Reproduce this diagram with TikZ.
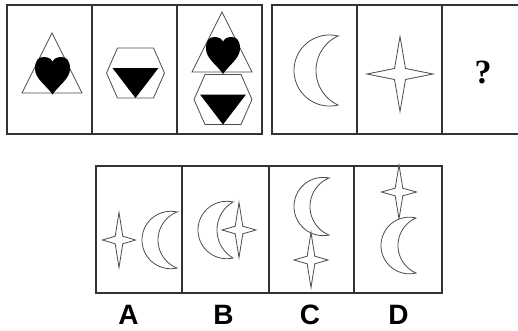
\documentclass[tikz,border=0pt]{standalone}
\usepackage{fontspec}
\setmainfont{Liberation Serif}
\newfontfamily\labfont{Liberation Sans}
\tikzset{
  boxline/.style={draw=black!80, line width=1.1pt},
  shapeline/.style={draw=black!70, line width=0.8pt, line join=miter, fill=white},
  blackfill/.style={fill=black, draw=none},
  optlabel/.style={font=\labfont\bfseries\fontsize{28}{28}\selectfont, inner sep=0pt, anchor=center},
}
\newcommand{\drawmoon}[5]{%
  \pgfmathsetmacro\mh{(#3-#2)/2}%
  \pgfmathsetmacro\my{(#3+#2)/2}%
  \pgfmathsetmacro\mdo{#1-#4}%
  \pgfmathsetmacro\mro{(\mh*\mh+\mdo*\mdo)/(2*\mdo)}%
  \pgfmathsetmacro\mcxo{#4+\mro}%
  \pgfmathsetmacro\mbo{atan2(\mh,#1-\mcxo)}%
  \pgfmathsetmacro\mbe{360-\mbo}%
  \pgfmathsetmacro\mdi{#1-#5}%
  \pgfmathsetmacro\mri{(\mh*\mh+\mdi*\mdi)/(2*\mdi)}%
  \pgfmathsetmacro\mcxi{#5+\mri}%
  \pgfmathsetmacro\mbi{atan2(\mh,#1-\mcxi)}%
  \pgfmathsetmacro\mbs{360-\mbi}%
  \pgfmathsetmacro\mbw{360-2*\mbi}%
  \draw[shapeline] plot[domain=\mbo:\mbe,samples=70,variable=\t] ({\mcxo+\mro*cos(\t)},{\my+\mro*sin(\t)})
    -- plot[domain=0:1,samples=70,variable=\t] ({\mcxi+\mri*cos(\mbs-\t*\mbw)},{\my+\mri*sin(\mbs-\t*\mbw)}) -- cycle;
}
\newcommand{\drawstar}[5]{%
  \draw[shapeline] ({#1+#3},{#2}) -- ({#1+#5},{#2-#5}) -- ({#1},{#2-#4}) -- ({#1-#5},{#2-#5})
    -- ({#1-#3},{#2}) -- ({#1-#5},{#2+#5}) -- ({#1},{#2+#4}) -- ({#1+#5},{#2+#5}) -- cycle;
}
\newcommand{\drawheart}[4]{% cx, ytop, ybottom, halfwidth
  \pgfmathsetmacro\hh{#3-#2}%
  \begin{scope}[shift={(#1,#2)}, xscale=#4, yscale=\hh]
    \fill (0,1) .. controls (-0.3,0.78) and (-1,0.58) .. (-1,0.32)
      .. controls (-1,0.08) and (-0.8,0) .. (-0.5,0)
      .. controls (-0.22,0) and (-0.05,0.06) .. (0,0.13)
      .. controls (0.05,0.06) and (0.22,0) .. (0.5,0)
      .. controls (0.8,0) and (1,0.08) .. (1,0.32)
      .. controls (1,0.58) and (0.3,0.78) .. (0,1) -- cycle;
  \end{scope}
}
\newcommand{\drawtri}[2]{% cx, apex y
  \draw[shapeline] ({#1},{#2}) -- ({#1+30},{#2+60}) -- ({#1-30},{#2+60}) -- cycle;
}
\newcommand{\drawhexg}[2]{% cx, cy
  \draw[shapeline] ({#1-18},{#2-25}) -- ({#1+18},{#2-25}) -- ({#1+29},{#2}) -- ({#1+18},{#2+25})
    -- ({#1-18},{#2+25}) -- ({#1-29},{#2}) -- cycle;
  \fill[blackfill] ({#1-23},{#2-5}) -- ({#1+23},{#2-5}) -- ({#1},{#2+25}) -- cycle;
}
\begin{document}
\begin{tikzpicture}[x=1pt,y=-1pt]
\useasboundingbox (0,0) rectangle (518,330);
\fill[white] (0,0) rectangle (518,330);
% left group
\draw[boxline] (7,5) rectangle (262,134);
\draw[boxline] (92,5) -- (92,134);
\draw[boxline] (177,5) -- (177,134);
\drawtri{52}{33}
\drawheart{52.5}{57}{94.5}{17.5}
\drawhexg{135.5}{73}
\drawtri{222}{12}
\drawheart{223}{37}{74}{17}
\drawhexg{223}{99.5}
% right group
\draw[boxline] (272,5) rectangle (522,134);
\draw[boxline] (357,5) -- (357,134);
\draw[boxline] (442,5) -- (442,134);
\drawmoon{338}{36}{105}{294}{316}
\drawstar{400}{74}{33}{37.5}{5.5}
\node[font=\bfseries\fontsize{34}{34}\selectfont, inner sep=0pt] (q) at (483,72) {?};
% options
\draw[boxline] (96,166) rectangle (442,293);
\draw[boxline] (182,166) -- (182,293);
\draw[boxline] (269,166) -- (269,293);
\draw[boxline] (354,166) -- (354,293);
% A
\drawstar{119}{240}{16.5}{27.5}{3.8}
\drawmoon{177}{212}{268}{142}{158}
% B
\drawmoon{233}{202}{258}{198}{217}
\drawstar{239}{230}{17}{27.5}{3.8}
% C
\drawmoon{329}{178}{235}{294}{310}
\drawstar{311}{260}{17}{27.5}{3.8}
% D
\drawstar{399}{192}{17.5}{27}{3.8}
\drawmoon{416}{218}{273}{381}{398}
% labels
\node[optlabel] (la) at (128.5,315) {A};
\node[optlabel] (lb) at (223.5,315) {B};
\node[optlabel] (lc) at (310,315) {C};
\node[optlabel] (ld) at (398.5,315) {D};
\end{tikzpicture}
\end{document}
